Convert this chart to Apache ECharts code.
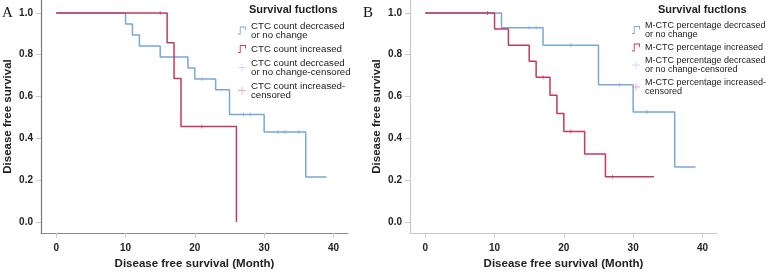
<!DOCTYPE html>
<html>
<head>
<meta charset="utf-8">
<script src="https://cdn.jsdelivr.net/npm/echarts@6/dist/echarts.min.js"></script>
<style>
  html, body { margin: 0; padding: 0; background: #fff; }
  #chart { width: 767px; height: 275px; }
</style>
</head>
<body>
<div id="chart"></div>
<script>
// axis ticks
const monthTicks = [0, 10, 20, 30, 40];
const survTicks = [0, 0.2, 0.4, 0.6, 0.8, 1.0];

// panel A - CTC count
const aDecTime = [0, 10, 11, 12, 15, 19, 20, 23, 25, 30, 36, 39];
const aDecSurv = [1, 0.947, 0.895, 0.842, 0.789, 0.737, 0.684, 0.632, 0.514, 0.43, 0.215, 0.215];
const aIncTime = [0, 16, 17, 18, 26];
const aIncSurv = [1, 0.857, 0.686, 0.457, 0];
const aDecCensTime = [21, 27, 28, 32, 33, 35];
const aDecCensSurv = [0.684, 0.514, 0.514, 0.43, 0.43, 0.43];
const aIncCensTime = [15, 21];
const aIncCensSurv = [1, 0.457];

// panel B - M-CTC percentage
const bDecTime = [0, 11, 17, 25, 30, 36, 39];
const bDecSurv = [1, 0.929, 0.846, 0.657, 0.526, 0.263, 0.263];
const bIncTime = [0, 10, 12, 15, 16, 18, 19, 20, 23, 26, 33];
const bIncSurv = [1, 0.923, 0.846, 0.769, 0.692, 0.606, 0.519, 0.433, 0.325, 0.216, 0.216];
const bDecCensTime = [9, 15, 16, 21, 28, 32];
const bDecCensSurv = [1, 0.929, 0.929, 0.846, 0.657, 0.526];
const bIncCensTime = [9, 17, 21, 27];
const bIncCensSurv = [1, 0.692, 0.433, 0.216];

const namesA = ["CTC count decrcased\nor no change", "CTC count increased",
  "CTC count decrcased\nor no change-censored", "CTC count increased-\ncensored"];
const namesB = ["M-CTC percentage decrcased\nor no change", "M-CTC percentage increased",
  "M-CTC percentage decrcased\nor no change-censored", "M-CTC percentage increased-\ncensored"];

const blue = "#78a7d8";
const red = "#c23a5d";
const font = "'Liberation Sans', Arial, sans-serif";

const stepIcon = "path://M0,8L2,8L2,0L9,0L9,4L8,4L8,1L3,1L3,9L0,9Z";
const plusIcon = "path://M4,0L5,0L5,4L9,4L9,5L5,5L5,9L4,9L4,5L0,5L0,4L4,4Z";

function zip(xs, ys) {
  return xs.map((x, i) => [x, ys[i]]);
}

function xAxisFor(idx, lineColor) {
  return {
    gridIndex: idx, type: "value", min: -2.2, max: 42.1,
    name: "Disease free survival (Month)", nameLocation: "middle", nameGap: 25,
    nameTextStyle: { fontFamily: font, fontWeight: "bold", fontSize: 11.5, color: "#222" },
    axisLine: { show: true, onZero: false, lineStyle: { color: lineColor, width: 1.2 } },
    axisTick: { show: true, length: 5, customValues: monthTicks, lineStyle: { color: "#ccc" } },
    axisLabel: { customValues: monthTicks, margin: 10, fontFamily: font, fontWeight: "bold", fontSize: 10, color: "#222" },
    splitLine: { show: false }
  };
}

function yAxisFor(idx, lineColor) {
  return {
    gridIndex: idx, type: "value", min: -0.053, max: 1.062,
    name: "Disease free survival", nameLocation: "middle", nameGap: 27,
    nameTextStyle: { fontFamily: font, fontWeight: "bold", fontSize: 11.5, color: "#222" },
    axisLine: { show: true, onZero: false, lineStyle: { color: lineColor, width: 1.2 } },
    axisTick: { show: true, length: 5, customValues: survTicks, lineStyle: { color: "#ccc" } },
    axisLabel: { customValues: survTicks, margin: 8, fontFamily: font, fontWeight: "bold", fontSize: 10, color: "#222",
      formatter: v => v.toFixed(1) },
    splitLine: { show: false }
  };
}

function stepSeries(name, idx, xs, ys, color) {
  return {
    name: name, type: "line", step: "end", xAxisIndex: idx, yAxisIndex: idx,
    data: zip(xs, ys), showSymbol: false, silent: true,
    lineStyle: { color: color, width: 1.5 }, itemStyle: { color: color }
  };
}

function censSeries(name, idx, xs, ys, color) {
  return {
    name: name, type: "scatter", xAxisIndex: idx, yAxisIndex: idx,
    data: zip(xs, ys), symbol: "rect", symbolSize: [1, 4], silent: true,
    itemStyle: { color: color, opacity: 0.7 }
  };
}

function legendFor(names, left, size) {
  return {
    orient: "vertical", left: left, top: 21, padding: 0, itemWidth: 8, itemHeight: 8, itemGap: 4,
    selectedMode: false,
    textStyle: { fontFamily: font, fontSize: size, lineHeight: 9, color: "#222" },
    data: [
      { name: names[0], icon: stepIcon },
      { name: names[1], icon: stepIcon },
      { name: names[2], icon: plusIcon, itemStyle: { color: "#b5cde8" } },
      { name: names[3], icon: plusIcon, itemStyle: { color: "#dc8ba2" } }
    ]
  };
}

const chart = echarts.init(document.getElementById("chart"), null, { renderer: "canvas" });

const serif = { fontFamily: "'Liberation Serif', serif", fontWeight: "normal", fontSize: 15, color: "#111" };
const legTitle = { fontFamily: font, fontWeight: "bold", fontSize: 11, color: "#222" };

const option = {
  animation: false,
  backgroundColor: "#fff",
  title: [
    { text: "A", left: 2, top: 6, padding: 0, textStyle: serif },
    { text: "B", left: 363, top: 6, padding: 0, textStyle: serif },
    { text: "Survival fuctlons", left: 249, top: 4, padding: 0, textStyle: legTitle },
    { text: "Survival fuctlons", left: 658, top: 4, padding: 0, textStyle: legTitle }
  ],
  legend: [legendFor(namesA, 238, 9.7), legendFor(namesB, 632, 9)],
  grid: [
    { left: 41, right: 419, top: 0, bottom: 42 },
    { left: 410, right: 50, top: 0, bottom: 41 }
  ],
  xAxis: [xAxisFor(0, "#888"), xAxisFor(1, "#c8c8c8")],
  yAxis: [yAxisFor(0, "#777"), yAxisFor(1, "#c8c8c8")],
  series: [
    stepSeries(namesA[0], 0, aDecTime, aDecSurv, blue),
    stepSeries(namesA[1], 0, aIncTime, aIncSurv, red),
    censSeries(namesA[2], 0, aDecCensTime, aDecCensSurv, blue),
    censSeries(namesA[3], 0, aIncCensTime, aIncCensSurv, red),
    stepSeries(namesB[0], 1, bDecTime, bDecSurv, blue),
    stepSeries(namesB[1], 1, bIncTime, bIncSurv, red),
    censSeries(namesB[2], 1, bDecCensTime, bDecCensSurv, blue),
    censSeries(namesB[3], 1, bIncCensTime, bIncCensSurv, red)
  ]
};

chart.setOption(option);
window.addEventListener("resize", () => {
  chart.resize();
});
</script>
</body>
</html>
